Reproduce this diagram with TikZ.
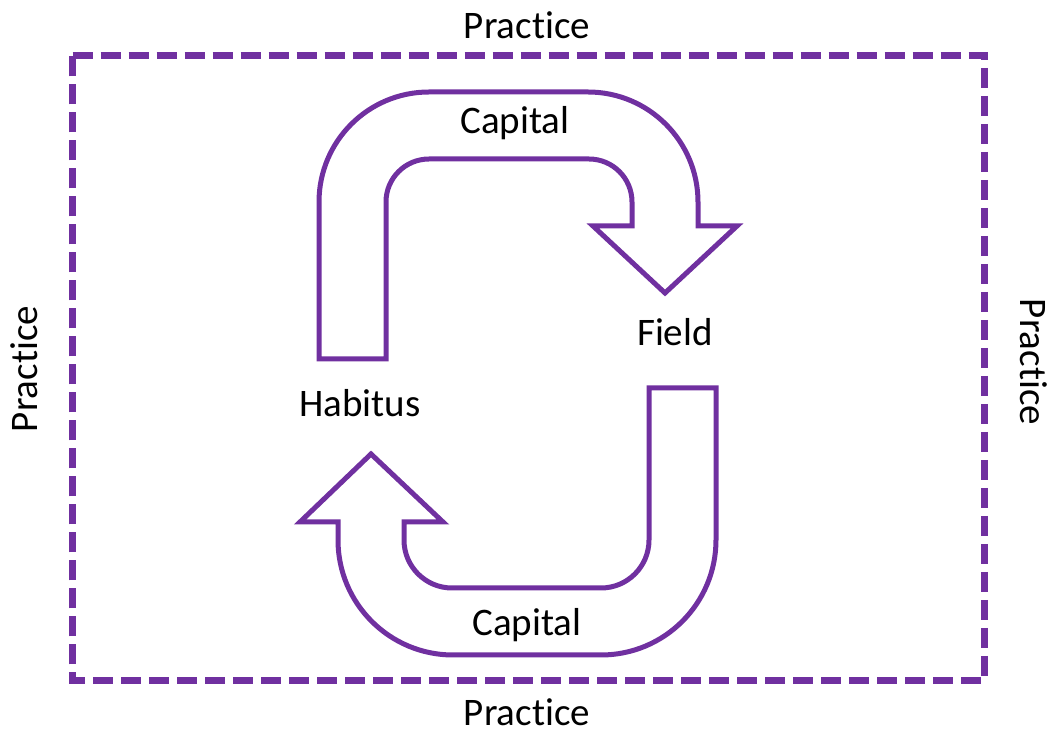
\documentclass[tikz,border=0pt]{standalone}
\usepackage{fontspec}
\setmainfont{Carlito}[Ligatures=CommonOff]
\definecolor{bourdieu}{RGB}{112,48,160}

\begin{document}
\begin{tikzpicture}[x=1pt, y=1pt,
		blockarrow/.style={draw=bourdieu, line width=5pt, line join=miter},
		frame/.style={draw=bourdieu, line width=7pt, dash pattern=on 20pt off 8pt},
		lbl/.style={font=\fontsize{39}{47}\selectfont, inner sep=0pt, anchor=base}]
			\useasboundingbox (0,0) rectangle (1053,731);
			% practice frame
			\draw[frame] (72.5,675.5) -- (984,675.5) -- (984,50.5) -- (72.5,50.5) -- cycle;
			% habitus -> field
			\draw[blockarrow] (319,372) -- (319,529) arc[start angle=180, end angle=90, radius=110]
				-- (588,639) arc[start angle=90, end angle=0, radius=110]
				-- (698,505) -- (737,505) -- (665,438) -- (593,505) -- (632,505)
				-- (632,529) arc[start angle=0, end angle=90, radius=43]
				-- (429,572) arc[start angle=90, end angle=180, radius=43]
				-- (386,372) -- cycle;
			% field -> habitus
			\draw[blockarrow] (649,343) -- (716,343) -- (716,191) arc[start angle=0, end angle=-90, radius=115]
				-- (453,76) arc[start angle=270, end angle=180, radius=115]
				-- (338,209) -- (300,209) -- (371,277) -- (443,209) -- (404,209)
				-- (404,191) arc[start angle=180, end angle=270, radius=48]
				-- (601,143) arc[start angle=-90, end angle=0, radius=48] -- cycle;
			\node[lbl] (habitus) at (360,314) {Habitus};
			\node[lbl] (field) at (675,385) {Field};
			\node[lbl] (captop) at (515,597) {Capital};
			\node[lbl] (capbot) at (527,95) {Capital};
			\node[lbl] (prtop) at (527,692) {Practice};
			\node[lbl] (prbot) at (527,5) {Practice};
			\node[lbl, rotate=90] (prleft) at (37,362) {Practice};
			\node[lbl, rotate=-90] (prright) at (1020,369) {Practice};
		\end{tikzpicture}
\end{document}
